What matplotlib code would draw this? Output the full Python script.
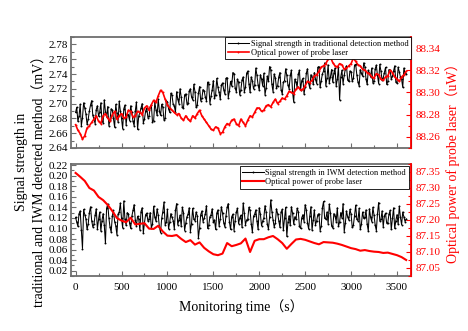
import numpy as np
import matplotlib
matplotlib.use("Agg")
import matplotlib.pyplot as plt
from matplotlib.ticker import MultipleLocator, FormatStrFormatter

# signal strength, traditional method (mV), read every 25 s from t = 0
trad_signal = [
    2.688, 2.676, 2.699, 2.681, 2.694, 2.672, 2.690, 2.704,
    2.679, 2.692, 2.683, 2.701, 2.674, 2.689, 2.696, 2.678,
    2.691, 2.668, 2.687, 2.703, 2.680, 2.693, 2.671, 2.685,
    2.697, 2.676, 2.690, 2.665, 2.688, 2.700, 2.679, 2.694,
    2.683, 2.698, 2.677, 2.692, 2.706, 2.684, 2.695, 2.680,
    2.702, 2.688, 2.711, 2.697, 2.716, 2.700, 2.709, 2.694,
    2.713, 2.701, 2.720, 2.705, 2.716, 2.698, 2.723, 2.707,
    2.717, 2.704, 2.726, 2.710, 2.731, 2.712, 2.722, 2.706,
    2.728, 2.713, 2.735, 2.717, 2.724, 2.740, 2.716, 2.729,
    2.719, 2.736, 2.722, 2.744, 2.715, 2.731, 2.725, 2.738,
    2.718, 2.733, 2.741, 2.721, 2.730, 2.746, 2.716, 2.735,
    2.724, 2.742, 2.713, 2.731, 2.738, 2.720, 2.745, 2.702,
    2.729, 2.740, 2.718, 2.734, 2.723, 2.747, 2.721, 2.736,
    2.742, 2.727, 2.750, 2.731, 2.744, 2.724, 2.752, 2.736,
    2.729, 2.748, 2.733, 2.705, 2.745, 2.738, 2.751, 2.730,
    2.743, 2.734, 2.753, 2.729, 2.746, 2.737, 2.750, 2.726,
    2.741, 2.748, 2.731, 2.752, 2.727, 2.744, 2.735, 2.749,
    2.730, 2.745, 2.737, 2.751, 2.728, 2.743, 2.733, 2.748,
    2.740,
]
# same signal, readings in between (t = 12.5, 37.5, ...)
trad_signal_mid = [
    2.695, 2.683, 2.670, 2.701, 2.686, 2.679, 2.698, 2.684,
    2.673, 2.697, 2.688, 2.677, 2.705, 2.682, 2.670, 2.693,
    2.680, 2.699, 2.675, 2.690, 2.666, 2.698, 2.686, 2.677,
    2.688, 2.670, 2.702, 2.683, 2.694, 2.674, 2.690, 2.681,
    2.696, 2.675, 2.702, 2.684, 2.690, 2.699, 2.678, 2.704,
    2.693, 2.714, 2.699, 2.688, 2.706, 2.720, 2.695, 2.712,
    2.700, 2.717, 2.709, 2.726, 2.695, 2.714, 2.704, 2.719,
    2.709, 2.729, 2.700, 2.719, 2.707, 2.734, 2.715, 2.725,
    2.719, 2.734, 2.708, 2.730, 2.742, 2.721, 2.733, 2.712,
    2.732, 2.716, 2.741, 2.727, 2.736, 2.720, 2.748, 2.725,
    2.739, 2.724, 2.712, 2.737, 2.750, 2.726, 2.740, 2.721,
    2.736, 2.719, 2.729, 2.747, 2.725, 2.738, 2.716, 2.733,
    2.722, 2.745, 2.731, 2.713, 2.741, 2.728, 2.739, 2.726,
    2.733, 2.749, 2.722, 2.740, 2.755, 2.735, 2.728, 2.746,
    2.741, 2.724, 2.750, 2.736, 2.727, 2.747, 2.732, 2.744,
    2.730, 2.752, 2.739, 2.724, 2.741, 2.755, 2.733, 2.745,
    2.736, 2.728, 2.747, 2.738, 2.753, 2.732, 2.742, 2.726,
    2.746, 2.733, 2.744, 2.729, 2.749, 2.736, 2.722, 2.741,
]

# probe laser power during traditional run (uW), every 50 s from t = 0
trad_power = [
    88.271, 88.263, 88.261, 88.270, 88.276, 88.274, 88.279, 88.277,
    88.280, 88.276, 88.281, 88.278, 88.283, 88.279, 88.282, 88.286,
    88.284, 88.293, 88.297, 88.300, 88.289, 88.284, 88.280, 88.277,
    88.279, 88.274, 88.277, 88.284, 88.276, 88.270, 88.266, 88.268,
    88.264, 88.272, 88.275, 88.272, 88.276, 88.270, 88.279, 88.282,
    88.286, 88.284, 88.289, 88.291, 88.290, 88.295, 88.297, 88.300,
    88.303, 88.302, 88.306, 88.309, 88.315, 88.319, 88.324, 88.330,
    88.327, 88.323, 88.325, 88.322, 88.326, 88.328, 88.324, 88.320,
    88.317, 88.313, 88.316, 88.311, 88.315, 88.318, 88.312, 88.314,
    88.319,
]
# in between (t = 25, 75, ...)
trad_power_mid = [
    88.266, 88.258, 88.268, 88.273, 88.279, 88.272, 88.281, 88.274,
    88.283, 88.279, 88.277, 88.284, 88.278, 88.283, 88.280, 88.288,
    88.289, 88.291, 88.302, 88.294, 88.286, 88.282, 88.281, 88.275,
    88.276, 88.279, 88.281, 88.279, 88.273, 88.267, 88.269, 88.263,
    88.269, 88.271, 88.276, 88.270, 88.273, 88.275, 88.278, 88.286,
    88.283, 88.288, 88.287, 88.294, 88.292, 88.294, 88.301, 88.299,
    88.305, 88.303, 88.310, 88.311, 88.316, 88.323, 88.326, 88.332,
    88.324, 88.326, 88.321, 88.324, 88.331, 88.325, 88.321, 88.318,
    88.314, 88.317, 88.312, 88.314, 88.320, 88.314, 88.310, 88.316,
]

# signal strength, IWM method (mV), every 25 s from t = 0
iwm_signal = [
    0.121, 0.104, 0.133, 0.062, 0.126, 0.098, 0.130, 0.115,
    0.108, 0.137, 0.117, 0.095, 0.128, 0.072, 0.146, 0.102,
    0.124, 0.113, 0.088, 0.131, 0.119, 0.152, 0.106, 0.127,
    0.100, 0.134, 0.116, 0.123, 0.097, 0.139, 0.111, 0.129,
    0.118, 0.101, 0.142, 0.114, 0.125, 0.092, 0.132, 0.107,
    0.136, 0.112, 0.121, 0.099, 0.147, 0.116, 0.104, 0.130,
    0.110, 0.127, 0.094, 0.138, 0.115, 0.124, 0.101, 0.133,
    0.119, 0.143, 0.106, 0.126, 0.112, 0.098, 0.135, 0.117,
    0.129, 0.103, 0.140, 0.113, 0.122, 0.096, 0.131, 0.109,
    0.125, 0.148, 0.107, 0.118, 0.134, 0.093, 0.127, 0.114,
    0.139, 0.105, 0.120, 0.131, 0.099, 0.154, 0.116, 0.110,
    0.128, 0.102, 0.136, 0.119, 0.085, 0.124, 0.141, 0.108,
    0.117, 0.132, 0.100, 0.126, 0.145, 0.111, 0.123, 0.097,
    0.135, 0.114, 0.128, 0.104, 0.151, 0.118, 0.109, 0.130,
    0.101, 0.124, 0.139, 0.112, 0.120, 0.094, 0.133, 0.116,
    0.127, 0.106, 0.144, 0.115, 0.098, 0.131, 0.121, 0.108,
    0.137, 0.113, 0.125, 0.096, 0.149, 0.117, 0.103, 0.129,
    0.111, 0.134, 0.119, 0.100, 0.126, 0.142, 0.107, 0.122,
    0.118,
]
# in between (t = 12.5, 37.5, ...)
iwm_signal_mid = [
    0.112, 0.128, 0.097, 0.136, 0.118, 0.109, 0.141, 0.103,
    0.125, 0.099, 0.131, 0.115, 0.106, 0.138, 0.120, 0.093,
    0.134, 0.105, 0.127, 0.148, 0.101, 0.117, 0.130, 0.110,
    0.123, 0.145, 0.105, 0.118, 0.132, 0.091, 0.126, 0.114,
    0.130, 0.108, 0.121, 0.137, 0.103, 0.119, 0.150, 0.112,
    0.099, 0.128, 0.115, 0.134, 0.107, 0.125, 0.140, 0.096,
    0.122, 0.139, 0.109, 0.117, 0.131, 0.082, 0.126, 0.113,
    0.128, 0.100, 0.122, 0.137, 0.116, 0.129, 0.105, 0.141,
    0.111, 0.124, 0.147, 0.098, 0.127, 0.115, 0.138, 0.120,
    0.102, 0.129, 0.116, 0.140, 0.109, 0.123, 0.135, 0.098,
    0.127, 0.114, 0.143, 0.108, 0.121, 0.132, 0.103, 0.137,
    0.115, 0.131, 0.097, 0.140, 0.112, 0.106, 0.129, 0.122,
    0.138, 0.104, 0.120, 0.113, 0.135, 0.099, 0.141, 0.116,
    0.107, 0.126, 0.096, 0.139, 0.119, 0.131, 0.146, 0.105,
    0.128, 0.113, 0.104, 0.130, 0.147, 0.110, 0.122, 0.136,
    0.102, 0.124, 0.117, 0.138, 0.108, 0.119, 0.135, 0.095,
    0.121, 0.140, 0.106, 0.128, 0.114, 0.133, 0.124, 0.110,
    0.127, 0.098, 0.139, 0.115, 0.108, 0.121, 0.131, 0.113,
]

# probe laser power during IWM run (uW), every 50 s from t = 0
iwm_power = [
    87.347, 87.335, 87.322, 87.300, 87.292, 87.272, 87.262, 87.247,
    87.228, 87.206, 87.198, 87.193, 87.207, 87.186, 87.188, 87.190,
    87.173, 87.172, 87.182, 87.164, 87.151, 87.150, 87.153, 87.141,
    87.131, 87.137, 87.123, 87.130, 87.113, 87.102, 87.093, 87.090,
    87.095, 87.128, 87.118, 87.122, 87.127, 87.142, 87.100, 87.135,
    87.140, 87.140, 87.146, 87.150, 87.140, 87.128, 87.110, 87.125,
    87.139, 87.141, 87.138, 87.133, 87.128, 87.124, 87.131, 87.130,
    87.129, 87.126, 87.122, 87.117, 87.112, 87.109, 87.104, 87.106,
    87.103, 87.101, 87.100, 87.097, 87.098, 87.094, 87.090, 87.084,
    87.075,
]

t_end = 3600


def merge(main, mid, step):  # put the in-between readings back in time order
    t = np.concatenate([np.linspace(0, t_end, len(main)),
                        np.linspace(step / 2, t_end - step / 2, len(mid))])
    v = np.concatenate([main, mid])
    order = np.argsort(t)
    return t[order], v[order]


plt.rcParams['font.family'] = ['Liberation Serif', 'Noto Sans CJK SC']

fig = plt.figure(figsize=(4.68, 3.31), dpi=100)
ax1 = fig.add_axes([0.1517, 0.5529, 0.727, 0.3353])
ax2 = fig.add_axes([0.1517, 0.1662, 0.727, 0.3384])
ax1r = ax1.twinx()
ax2r = ax2.twinx()

spine_gray = '#6e6e6e'


def style(ax, axr):  # inward ticks, gray frame, red right axis
    for s in ['left', 'top', 'bottom']:
        ax.spines[s].set_color(spine_gray)
        ax.spines[s].set_linewidth(1.3)
        axr.spines[s].set_visible(False)
    axr.spines['right'].set_color('red')
    axr.spines['right'].set_linewidth(1.3)
    ax.tick_params(which='both', direction='in', labelsize=8, color=spine_gray, width=0.8, pad=2)
    ax.tick_params(which='major', length=3.5)
    ax.tick_params(which='minor', length=2)
    axr.tick_params(which='both', direction='in', labelsize=8, color='red', labelcolor='red', width=0.8, pad=3)
    axr.tick_params(which='major', length=3.5)
    axr.tick_params(which='minor', length=2)
    ax.set_xlim(-50, 3655)
    ax.xaxis.set_major_locator(MultipleLocator(500))
    ax.xaxis.set_minor_locator(MultipleLocator(250))


style(ax1, ax1r)
style(ax2, ax2r)

t, v = merge(trad_signal, trad_signal_mid, 25)
l1, = ax1.plot(t, v, color='black', lw=0.75, marker='.', ms=2.8, mew=0,
               label='Signal strength in traditional detection method')
t, v = merge(trad_power, trad_power_mid, 50)
l2, = ax1r.plot(t, v, color='red', lw=1.2, marker='.', ms=2.8, mew=0,
                label='Optical power of probe laser')
ax1.set_ylim(2.64, 2.79)
ax1.yaxis.set_major_locator(MultipleLocator(0.02))
ax1.yaxis.set_minor_locator(MultipleLocator(0.01))
ax1.yaxis.set_major_formatter(FormatStrFormatter('%.2f'))
ax1.tick_params(axis='x', labelbottom=False)
ax1r.set_ylim(88.25, 88.35)
ax1r.yaxis.set_major_locator(MultipleLocator(0.02))
ax1r.yaxis.set_minor_locator(MultipleLocator(0.01))
ax1r.yaxis.set_major_formatter(FormatStrFormatter('%.2f'))
leg1 = ax1r.legend([l1, l2], [l1.get_label(), l2.get_label()], loc='upper right', fontsize=6,
                   fancybox=False, edgecolor='black', framealpha=1, borderaxespad=0,
                   borderpad=0.3, labelspacing=0.15, handlelength=2.6, handletextpad=0.2)
leg1.get_frame().set_linewidth(0.6)

t, v = merge(iwm_signal, iwm_signal_mid, 25)
l3, = ax2.plot(t, v, color='black', lw=0.75, marker='.', ms=2.8, mew=0,
               label='Signal strength in IWM detection method')
l4, = ax2r.plot(np.linspace(0, t_end, len(iwm_power)), iwm_power, color='red', lw=1.5,
                label='Optical power of probe laser')
ax2.set_ylim(0.01, 0.222)
ax2.yaxis.set_major_locator(MultipleLocator(0.02))
ax2.yaxis.set_minor_locator(MultipleLocator(0.01))
ax2.yaxis.set_major_formatter(FormatStrFormatter('%.2f'))
ax2.tick_params(axis='x', pad=5)
ax2r.set_ylim(87.025, 87.375)
ax2r.yaxis.set_major_locator(MultipleLocator(0.05))
ax2r.yaxis.set_minor_locator(MultipleLocator(0.025))
ax2r.yaxis.set_major_formatter(FormatStrFormatter('%.2f'))
leg2 = ax2r.legend([l3, l4], [l3.get_label(), l4.get_label()], loc='upper right', fontsize=6,
                   fancybox=False, edgecolor='black', framealpha=1, borderaxespad=0.3,
                   borderpad=0.3, labelspacing=0.15, handlelength=2.6, handletextpad=0.2)
leg2.get_frame().set_linewidth(0.6)

fig.text(0.047, 0.51, 'Signal strength in', rotation=90, ha='center', va='center', fontsize=10)
fig.text(0.085, 0.462, 'traditional and IWM detected method（mV）', rotation=90,
         ha='center', va='center', fontsize=10)
fig.text(0.966, 0.517, 'Optical power of probe laser（uW）', rotation=90, ha='center', va='center',
         fontsize=10, color='red')
fig.text(0.515, 0.073, 'Monitoring time（s）', ha='center', va='center', fontsize=10)

fig.savefig('out.png', dpi=100)
